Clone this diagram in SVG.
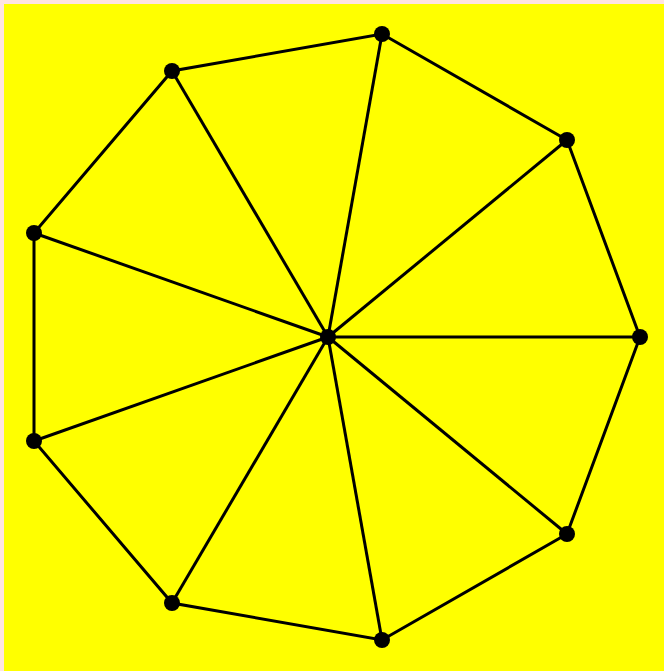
<svg xmlns="http://www.w3.org/2000/svg" width="664" height="671" viewBox="0 0 664 671">
<style>
.e{stroke:#000;stroke-width:3;fill:none}
.n{fill:#000}
</style>
<rect x="0" y="0" width="664" height="671" fill="#ffe4e1"/>
<rect x="4" y="4" width="660" height="667" fill="#ffff00"/>
<g id="edges" class="e">
<line x1="328" y1="337" x2="382" y2="34"/>
<line x1="328" y1="337" x2="567" y2="140"/>
<line x1="328" y1="337" x2="640" y2="337"/>
<line x1="328" y1="337" x2="567" y2="534"/>
<line x1="328" y1="337" x2="382" y2="640"/>
<line x1="328" y1="337" x2="172" y2="603"/>
<line x1="328" y1="337" x2="34" y2="441"/>
<line x1="328" y1="337" x2="34" y2="233"/>
<line x1="328" y1="337" x2="172" y2="71"/>
<polygon points="382,34 567,140 640,337 567,534 382,640 172,603 34,441 34,233 172,71"/>
</g>
<g id="c" class="n"><circle cx="328" cy="337" r="8"/></g>
<g id="n1" class="n"><circle cx="382" cy="34" r="8"/></g>
<g id="n2" class="n"><circle cx="567" cy="140" r="8"/></g>
<g id="n3" class="n"><circle cx="640" cy="337" r="8"/></g>
<g id="n4" class="n"><circle cx="567" cy="534" r="8"/></g>
<g id="n5" class="n"><circle cx="382" cy="640" r="8"/></g>
<g id="n6" class="n"><circle cx="172" cy="603" r="8"/></g>
<g id="n7" class="n"><circle cx="34" cy="441" r="8"/></g>
<g id="n8" class="n"><circle cx="34" cy="233" r="8"/></g>
<g id="n9" class="n"><circle cx="172" cy="71" r="8"/></g>
</svg>
